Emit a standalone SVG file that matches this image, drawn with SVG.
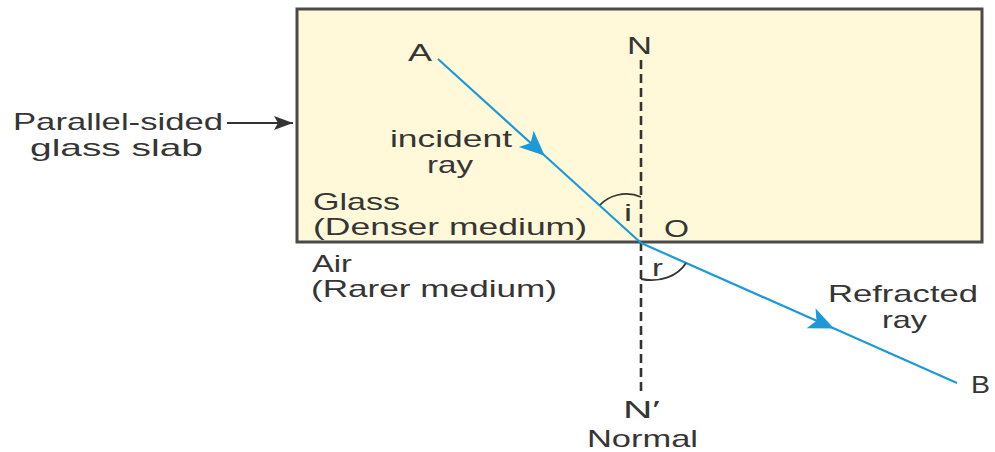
<svg xmlns="http://www.w3.org/2000/svg" width="995" height="452" viewBox="0 0 995 452">
<style>
text{font-family:"Liberation Sans",Arial,sans-serif;font-size:24px;fill:#353535}
.ray{fill:none;stroke:#1d9ad6;stroke-width:2.2}
.arc{fill:none;stroke:#333;stroke-width:1.8}
</style>
<defs>
<marker id="ah" viewBox="-26 -12 28 24" refX="0" refY="0" markerWidth="28" markerHeight="24" markerUnits="userSpaceOnUse" orient="auto">
<path d="M1,0 L-24,-11 L-18,0 L-24,11 Z" fill="#1d9ad6"/>
</marker>
<marker id="bh" viewBox="-20 -8 21 16" refX="0" refY="0" markerWidth="21" markerHeight="16" markerUnits="userSpaceOnUse" orient="auto">
<path d="M0,0 L-19,-7 L-15,0 L-19,7 Z" fill="#333"/>
</marker>
</defs>
<g id="slab">
<rect x="297" y="9" width="685" height="233" fill="#fff9d9" stroke="#4a4a4a" stroke-width="3"/>
</g>
<g id="connectors">
<line x1="641" y1="60" x2="641" y2="394" stroke="#333" stroke-width="2.6" stroke-dasharray="9 5"/>
<path class="ray" d="M438,59 L544,155 L641,243" marker-mid="url(#ah)"/>
<path class="ray" d="M641,243 L833,328 L957,383" marker-mid="url(#ah)"/>
<line x1="227" y1="123" x2="293" y2="123" stroke="#333" stroke-width="2" marker-end="url(#bh)"/>
<path class="arc" d="M600,205 C608,196 625,190 641,197"/>
<path class="arc" d="M641,279 C660,283 678,276 686,263"/>
</g>
<g id="labels">
<text x="408" y="61" textLength="24" lengthAdjust="spacingAndGlyphs">A</text>
<text x="627" y="54" textLength="25" lengthAdjust="spacingAndGlyphs">N</text>
<text x="13" y="130" textLength="210" lengthAdjust="spacingAndGlyphs">Parallel-sided</text>
<text x="30" y="156" textLength="173" lengthAdjust="spacingAndGlyphs">glass slab</text>
<text x="390" y="147" textLength="122" lengthAdjust="spacingAndGlyphs">incident</text>
<text x="427" y="173" textLength="46" lengthAdjust="spacingAndGlyphs">ray</text>
<text x="313" y="210" textLength="87" lengthAdjust="spacingAndGlyphs">Glass</text>
<text x="313" y="235" textLength="274" lengthAdjust="spacingAndGlyphs">(Denser medium)</text>
<text x="624" y="221" textLength="8" lengthAdjust="spacingAndGlyphs">i</text>
<text x="664" y="237" textLength="25" lengthAdjust="spacingAndGlyphs">O</text>
<text x="312" y="272" textLength="40" lengthAdjust="spacingAndGlyphs">Air</text>
<text x="311" y="297" textLength="246" lengthAdjust="spacingAndGlyphs">(Rarer medium)</text>
<text x="652" y="276" textLength="11" lengthAdjust="spacingAndGlyphs">r</text>
<text x="828" y="302" textLength="150" lengthAdjust="spacingAndGlyphs">Refracted</text>
<text x="882" y="328" textLength="45" lengthAdjust="spacingAndGlyphs">ray</text>
<text x="971" y="393" textLength="19" lengthAdjust="spacingAndGlyphs">B</text>
<text x="623" y="418" textLength="37" lengthAdjust="spacingAndGlyphs">N′</text>
<text x="587" y="447" textLength="111" lengthAdjust="spacingAndGlyphs">Normal</text>
</g>
</svg>
